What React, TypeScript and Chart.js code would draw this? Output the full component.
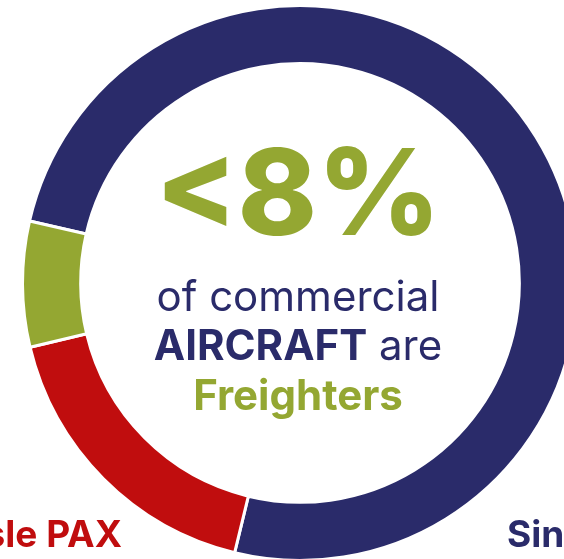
import React, { useEffect, useRef } from "react";
import { Chart, registerables } from "chart.js";

Chart.register(...registerables);

const categories = ["Single-aisle PAX", "Twin-aisle PAX", "Freighters"];
const shares = [75.2, 17.5, 7.3];
const colors = ["#2a2b6a", "#c00d0e", "#94a732"];
const headline = "<8%";
const lineOne = "of commercial";
const lineTwoBold = "AIRCRAFT";
const lineTwoRegular = " are";
const lineThree = "Freighters";

const FONT = "Inter, Roboto, sans-serif";

const textPlugin = {
  id: "centerText",
  afterDraw(chart: any) {
    const arc = chart.getDatasetMeta(0).data[0];
    if (!arc) return;
    const cx = arc.x - 2;
    const cy = arc.y;
    const ctx = chart.ctx;
    ctx.save();
    ctx.textBaseline = "alphabetic";
    ctx.textAlign = "center";
    ctx.fillStyle = colors[2];
    ctx.font = `800 120px ${FONT}`;
    ctx.fillText(headline, cx, cy - 48);

    ctx.fillStyle = colors[0];
    ctx.font = `400 42px ${FONT}`;
    ctx.fillText(lineOne, cx, cy + 28);

    ctx.textAlign = "left";
    ctx.font = `bold 42px ${FONT}`;
    const wb = ctx.measureText(lineTwoBold).width;
    ctx.font = `400 42px ${FONT}`;
    const wr = ctx.measureText(lineTwoRegular).width;
    const x0 = cx - (wb + wr) / 2;
    ctx.font = `bold 42px ${FONT}`;
    ctx.fillText(lineTwoBold, x0, cy + 77);
    ctx.font = `400 42px ${FONT}`;
    ctx.fillText(lineTwoRegular, x0 + wb, cy + 77);

    ctx.textAlign = "center";
    ctx.fillStyle = colors[2];
    ctx.font = `bold 42px ${FONT}`;
    ctx.fillText(lineThree, cx, cy + 127);

    // segment labels
    ctx.font = `bold 37px ${FONT}`;
    ctx.fillStyle = colors[1];
    ctx.textAlign = "right";
    ctx.fillText(categories[1], cx - 176, cy + 264);
    ctx.fillStyle = colors[0];
    ctx.textAlign = "left";
    ctx.fillText(categories[0], cx + 209, cy + 264);
    ctx.restore();
  },
};

export default function App() {
  const ref = useRef<HTMLCanvasElement | null>(null);
  useEffect(() => {
    document.body.style.margin = "0";
    if (!ref.current) return;
    const chart = new Chart(ref.current, {
      type: "doughnut",
      data: {
        labels: categories,
        datasets: [
          {
            data: shares,
            backgroundColor: colors,
            borderColor: "#ffffff",
            borderWidth: 3,
            hoverOffset: 0,
          },
        ],
      },
      options: {
        responsive: false,
        animation: false,
        rotation: -77.1,
        radius: 277.5,
        cutout: 222.5,
        layout: { padding: { top: 0, bottom: 34, left: 0, right: 0 } },
        plugins: {
          legend: { display: false },
          tooltip: { enabled: false },
        },
      },
      plugins: [textPlugin],
    });
    return () => chart.destroy();
  }, []);
  return (
    <div
      style={{
        position: "fixed",
        left: 0,
        top: 0,
        width: 564,
        height: 559,
        overflow: "hidden",
        background: "#ffffff",
      }}
    >
      <canvas ref={ref} width={600} height={600} style={{ width: 600, height: 600, display: "block" }} />
    </div>
  );
}
